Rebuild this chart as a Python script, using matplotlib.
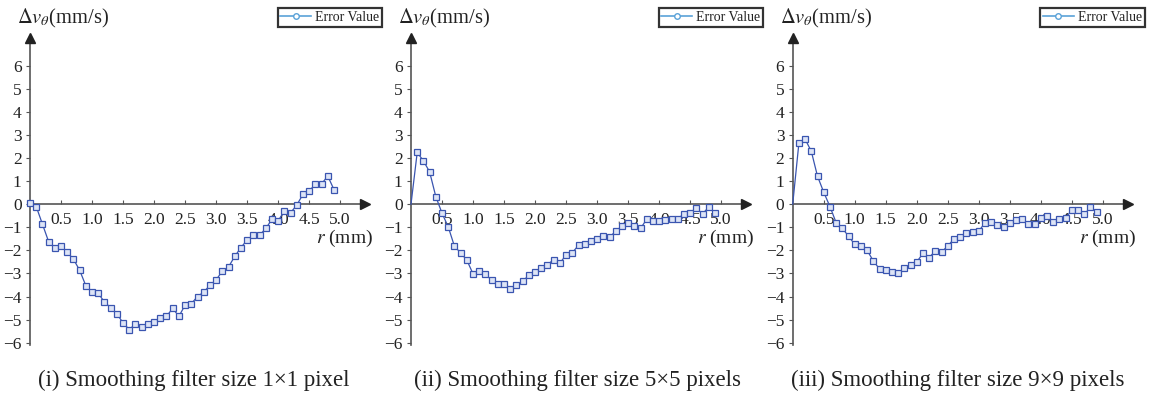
import matplotlib
matplotlib.use("Agg")
import matplotlib.pyplot as plt
from matplotlib.lines import Line2D

# ---------------- data ----------------
r_mm = [0.0, 0.1, 0.2, 0.3, 0.4, 0.5, 0.6, 0.7, 0.8, 0.9,
        1.0, 1.1, 1.2, 1.3, 1.4, 1.5, 1.6, 1.7, 1.8, 1.9,
        2.0, 2.1, 2.2, 2.3, 2.4, 2.5, 2.6, 2.7, 2.8, 2.9,
        3.0, 3.1, 3.2, 3.3, 3.4, 3.5, 3.6, 3.7, 3.8, 3.9,
        4.0, 4.1, 4.2, 4.3, 4.4, 4.5, 4.6, 4.7, 4.8, 4.9]

err_1x1 = [0.05, -0.10, -0.86, -1.62, -1.88, -1.82, -2.08, -2.38, -2.86, -3.53,
           -3.79, -3.86, -4.24, -4.48, -4.75, -5.14, -5.43, -5.19, -5.31, -5.20,
           -5.09, -4.91, -4.86, -4.51, -4.86, -4.37, -4.31, -4.00, -3.81, -3.51,
           -3.28, -2.90, -2.72, -2.26, -1.88, -1.55, -1.35, -1.35, -1.05, -0.66,
           -0.72, -0.30, -0.37, -0.04, 0.43, 0.56, 0.88, 0.88, 1.22, 0.63]

err_5x5 = [0.00, 2.24, 1.88, 1.40, 0.33, -0.39, -0.98, -1.82, -2.11, -2.42,
           -3.02, -2.89, -3.02, -3.30, -3.44, -3.47, -3.67, -3.50, -3.34, -3.08,
           -2.92, -2.75, -2.62, -2.40, -2.55, -2.20, -2.10, -1.78, -1.71, -1.59,
           -1.50, -1.39, -1.43, -1.17, -0.95, -0.81, -0.95, -1.05, -0.65, -0.72,
           -0.71, -0.69, -0.65, -0.62, -0.43, -0.36, -0.17, -0.42, -0.12, -0.39]

err_9x9 = [0.00, 2.65, 2.82, 2.29, 1.21, 0.52, -0.10, -0.80, -1.04, -1.39,
           -1.74, -1.82, -2.00, -2.46, -2.81, -2.84, -2.92, -2.99, -2.76, -2.63,
           -2.50, -2.13, -2.31, -2.02, -2.07, -1.81, -1.50, -1.42, -1.24, -1.19,
           -1.16, -0.81, -0.77, -0.90, -1.00, -0.81, -0.69, -0.65, -0.84, -0.84,
           -0.61, -0.49, -0.77, -0.64, -0.59, -0.25, -0.27, -0.43, -0.14, -0.32]

x_ticks = [0.5, 1.0, 1.5, 2.0, 2.5, 3.0, 3.5, 4.0, 4.5, 5.0]
y_ticks = [-6, -5, -4, -3, -2, -1, 0, 1, 2, 3, 4, 5, 6]
captions = ["(i) Smoothing filter size 1\u00d71 pixel",
            "(ii) Smoothing filter size 5\u00d75 pixels",
            "(iii) Smoothing filter size 9\u00d79 pixels"]
legend_label = "Error Value"
y_label = r"$\Delta v_\theta$(mm/s)"
x_label = r"$r$ (mm)"

# ---------------- style ----------------
plt.rcParams['font.family'] = ['Liberation Serif', 'DejaVu Serif']
plt.rcParams['mathtext.fontset'] = 'stix'

W, H = 1149, 396
fig = plt.figure(figsize=(W / 100, H / 100), dpi=100)

line_col = '#3a55b0'
face_col = '#dde4f6'
leg_col = '#5aa2d8'
spine_col = '#555555'
txt_col = '#222222'

axis_x_px = [30, 411, 792.7]
ax_w_px = 335
ax_bottom_px = 345   # from top
ax_top_px = 38
series = [err_1x1, err_5x5, err_9x9]
first_marker = [0, 1, 1]
caption_cx = [194, 577, 958]

for i in range(3):
    left = axis_x_px[i] / W
    bottom = 1 - ax_bottom_px / H
    height = (ax_bottom_px - ax_top_px) / H
    ax = fig.add_axes([left, bottom, ax_w_px / W, height])
    ax.set_xlim(0, 5.4)
    ax.set_ylim(-6.1, 7.2)
    ax.plot(r_mm, series[i], color=line_col, lw=0.9, marker='s', ms=4.2,
            mfc=face_col, mec=line_col, mew=0.9,
            markevery=slice(first_marker[i], None), clip_on=False, zorder=3)

    for s in ['top', 'right']:
        ax.spines[s].set_visible(False)
    ax.spines['bottom'].set_position(('data', 0))
    ax.spines['left'].set_color(spine_col)
    ax.spines['bottom'].set_color(spine_col)
    ax.spines['left'].set_linewidth(1.2)
    ax.spines['bottom'].set_linewidth(1.2)

    # arrow heads
    ax.plot(1, 0, marker='>', color='#222222', ms=7, transform=ax.get_yaxis_transform(),
            clip_on=False, zorder=4)
    ax.plot(0, 1, marker='^', color='#222222', ms=7, transform=ax.get_xaxis_transform(),
            clip_on=False, zorder=4)

    ax.set_xticks(x_ticks)
    ax.set_xticklabels([f"{v:.1f}" for v in x_ticks])
    ax.set_yticks(y_ticks)
    ax.set_yticklabels([f"{v}" if v >= 0 else f"\u2212{-v}" for v in y_ticks])
    ax.tick_params(axis='x', direction='in', length=3, width=0.8, color=spine_col,
                   pad=5.5, labelsize=12.5, labelcolor=txt_col)
    ax.tick_params(axis='y', direction='out', length=3, width=0.8, color=spine_col,
                   pad=3, labelsize=12.5, labelcolor=txt_col)
    ax.patch.set_alpha(0)

    # axis labels
    fig.text((axis_x_px[i] - 13) / W, 1 - 18 / H, y_label, fontsize=14.8,
             ha='left', va='center', color=txt_col)
    fig.text((axis_x_px[i] + 343) / W, 1 - 238 / H, x_label, fontsize=14,
             ha='right', va='center', color=txt_col)

    # legend
    handle = Line2D([], [], color=leg_col, lw=1.2, marker='o', ms=4,
                    mfc='white', mec=leg_col, mew=1.0)
    leg = ax.legend([handle], [legend_label], loc='upper right',
                    bbox_to_anchor=((axis_x_px[i] + 352) / W, 1 - 8 / H),
                    bbox_transform=fig.transFigure, fontsize=10, frameon=True,
                    fancybox=False, borderpad=0.2, handlelength=2.2,
                    handletextpad=0.3, borderaxespad=0)
    for t in leg.get_texts():
        t.set_color(txt_col)
    fr = leg.get_frame()
    fr.set_edgecolor('black')
    fr.set_linewidth(1.6)

    # caption
    fig.text(caption_cx[i] / W, 1 - 380 / H, captions[i], fontsize=16.5,
             ha='center', va='center', color=txt_col)

fig.savefig('out.png', dpi=100)
